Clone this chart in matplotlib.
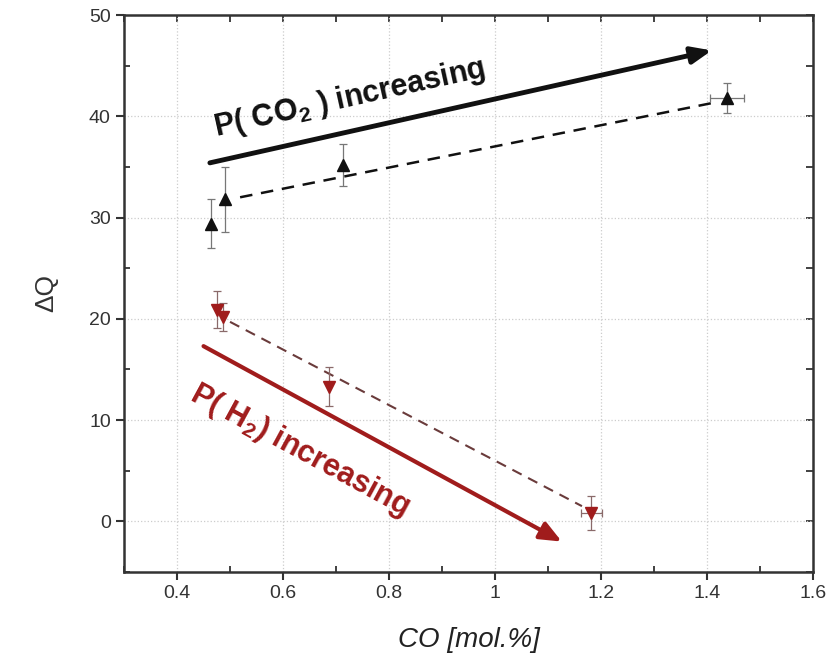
import numpy as np
import matplotlib
matplotlib.use("Agg")
import matplotlib.pyplot as plt
from matplotlib.ticker import MultipleLocator

# Dados
co2_x = [0.465, 0.490, 0.713, 1.437]
co2_y = [29.4, 31.8, 35.2, 41.8]
co2_yerr = [2.4, 3.2, 2.1, 1.5]
co2_xerr = [0.0, 0.0, 0.0, 0.032]

h2_x = [0.476, 0.487, 0.686, 1.182]
h2_y = [20.9, 20.2, 13.3, 0.8]
h2_yerr = [1.8, 1.4, 1.9, 1.7]
h2_xerr = [0.0, 0.0, 0.0, 0.02]

# linhas tracejadas (ajuste)
co2_fit_x = [0.519, 1.409]
co2_fit_y = [32.0, 41.3]
h2_fit_x = [0.50, 1.164]
h2_fit_y = [19.7, 1.5]

# setas
co2_arrow = [(0.462, 35.4), (1.409, 46.5)]
h2_arrow = [(0.450, 17.3), (1.126, -2.0)]

xticks = [0.4, 0.6, 0.8, 1.0, 1.2, 1.4, 1.6]
xticklabels = ["0.4", "0.6", "0.8", "1", "1.2", "1.4", "1.6"]
yticks = [0, 10, 20, 30, 40, 50]

black = "#111111"
red = "#a01c1c"
axc = "#333333"

plt.rcParams['font.family'] = ['Liberation Sans', 'DejaVu Sans']
plt.rcParams['mathtext.fontset'] = 'custom'
plt.rcParams['mathtext.rm'] = 'Liberation Sans'
plt.rcParams['mathtext.bf'] = 'Liberation Sans:bold'

fig = plt.figure(figsize=(8.33, 6.64), dpi=100)
ax = fig.add_axes([0.1489, 0.1386, 0.8271, 0.8388])

ax.set_xlim(0.3, 1.6)
ax.set_ylim(-5, 50)

ax.grid(True, which='major', color='#cccccc', linestyle=':', linewidth=0.9)
ax.set_axisbelow(True)

# linhas tracejadas
ax.plot(co2_fit_x, co2_fit_y, '--', color=black, lw=1.8, dashes=(5, 3.5))
ax.plot(h2_fit_x, h2_fit_y, '--', color='#6a3b3b', lw=1.5, dashes=(5, 3.5))

# pontos com barras de erro
ax.errorbar(co2_x, co2_y, yerr=co2_yerr, xerr=co2_xerr, fmt='^', color=black,
            ms=8, ecolor='#777777', elinewidth=0.9, capsize=3, capthick=0.9, zorder=5)
ax.errorbar(h2_x, h2_y, yerr=h2_yerr, xerr=h2_xerr, fmt='v', color=red,
            ms=8, ecolor='#8a6a6a', elinewidth=0.9, capsize=3, capthick=0.9, zorder=5)

# setas
ax.annotate('', xy=co2_arrow[1], xytext=co2_arrow[0],
            arrowprops=dict(arrowstyle='-|>,head_length=1.2,head_width=0.5',
                            color=black, lw=3.5, shrinkA=0, shrinkB=0))
ax.annotate('', xy=h2_arrow[1], xytext=h2_arrow[0],
            arrowprops=dict(arrowstyle='-|>,head_length=1.3,head_width=0.55',
                            color=red, lw=3.0, shrinkA=0, shrinkB=0))

ax.text(0.726, 41.8, r'P( CO$_\mathbf{2}$ ) increasing', rotation=12.5,
        rotation_mode='anchor', ha='center', va='center', fontsize=22,
        fontweight='bold', color=black)
ax.text(0.632, 7.0, r'P( H$_\mathbf{2}$) increasing', rotation=-28.5,
        rotation_mode='anchor', ha='center', va='center', fontsize=22,
        fontweight='bold', color=red)

# eixos
ax.set_xticks(xticks)
ax.set_xticklabels(xticklabels)
ax.set_yticks(yticks)
ax.xaxis.set_minor_locator(MultipleLocator(0.1))
ax.yaxis.set_minor_locator(MultipleLocator(5))
ax.tick_params(which='major', direction='out', length=6, width=1.5, color=axc,
               labelsize=14, labelcolor='#333333', top=False, right=False)
ax.tick_params(which='minor', direction='in', length=4, width=1.3, color=axc,
               top=False, right=False)
sec_x = ax.secondary_xaxis('top')
sec_x.set_xticks(xticks)
sec_x.xaxis.set_minor_locator(MultipleLocator(0.1))
sec_x.tick_params(which='both', direction='in', length=5, width=1.3, color=axc,
                  labeltop=False)
sec_y = ax.secondary_yaxis('right')
sec_y.set_yticks(yticks)
sec_y.yaxis.set_minor_locator(MultipleLocator(5))
sec_y.tick_params(which='both', direction='in', length=5, width=1.3, color=axc,
                  labelright=False)
for s in sec_x.spines.values():
    s.set_visible(False)
for s in sec_y.spines.values():
    s.set_visible(False)

for s in ax.spines.values():
    s.set_linewidth(1.8)
    s.set_color(axc)

ax.set_xlabel('CO [mol.%]', fontsize=20, style='italic', color='#222222', labelpad=18)
ax.set_ylabel('ΔQ', fontsize=19, color='#333333', labelpad=22)

fig.savefig('out.png', dpi=100)
